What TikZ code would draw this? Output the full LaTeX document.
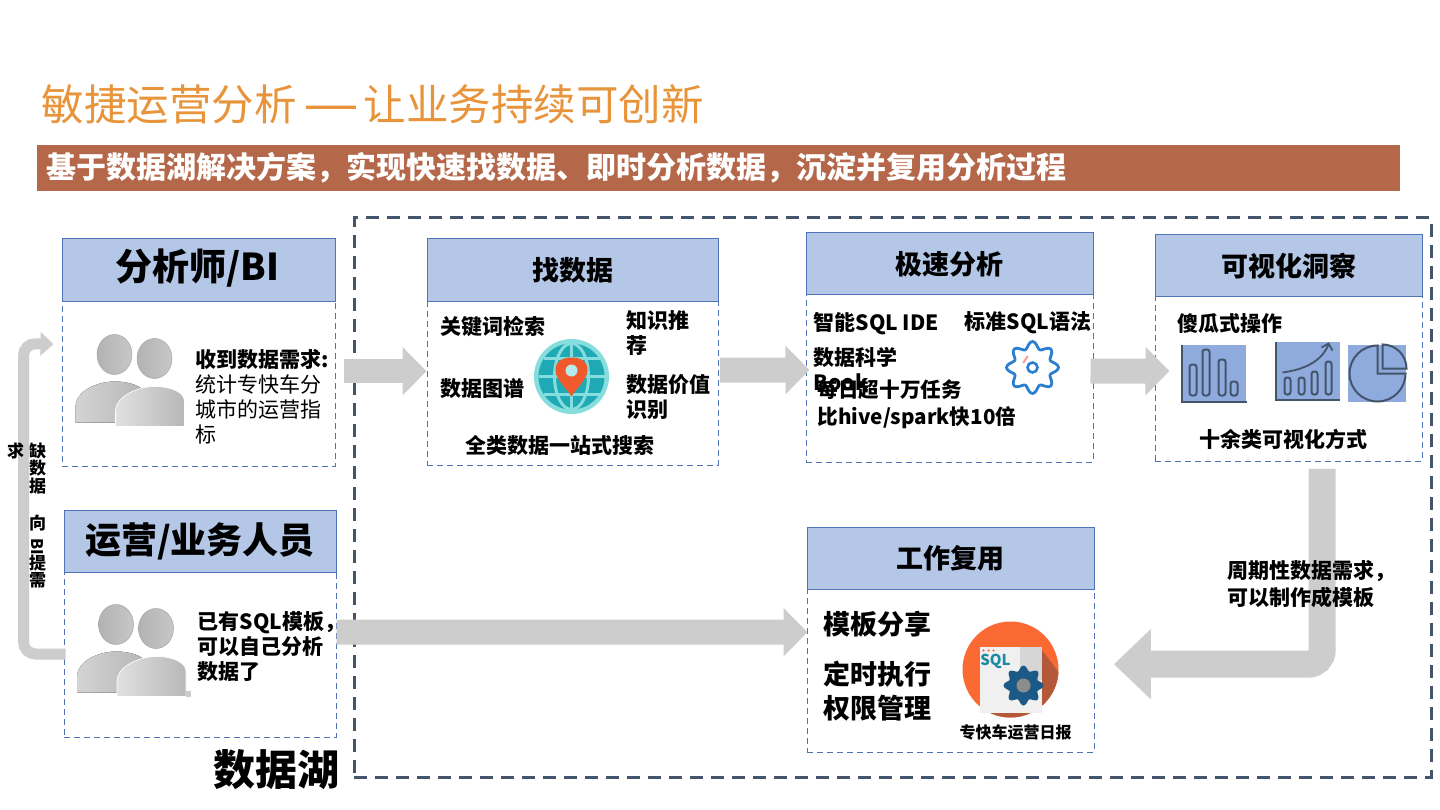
\documentclass[tikz,border=0pt]{standalone}
\usepackage{fontspec}
\usepackage{graphicx}
\setmainfont{Noto Sans CJK SC}
\newfontfamily\dashfont{Liberation Sans}
\usetikzlibrary{arrows.meta,positioning}
\definecolor{hdr}{HTML}{B4C7E7}
\definecolor{edge}{HTML}{4F73B5}
\definecolor{lake}{HTML}{44546A}
\definecolor{conn}{HTML}{CDCDCD}
\definecolor{tile}{HTML}{8FAADC}
\definecolor{banner}{HTML}{B5674A}
\definecolor{titleor}{HTML}{E8943A}
\definecolor{teal1}{HTML}{1FA9B5}
\definecolor{teal2}{HTML}{86DDDD}
\definecolor{pinor}{HTML}{F0592B}
\definecolor{gearblue}{HTML}{2A7FD0}
\definecolor{sqlor}{HTML}{FC6A33}
\definecolor{sqlsh}{HTML}{B4583A}
\definecolor{sqlgear}{HTML}{1B5A87}
\tikzset{
  x=1pt,y=-1pt,
  card/.style={draw=edge,line width=1.4pt,dash pattern=on 6pt off 4pt,fill=white,anchor=north west,inner sep=0pt,minimum width=#1},
  head/.style={draw=edge,line width=1pt,fill=hdr,anchor=north west,inner sep=0pt,minimum height=62pt,minimum width=#1,text=black},
  txt/.style={inner sep=0pt,anchor=west,align=left,text=black,font=\bfseries\fontsize{#1pt}{25pt}\selectfont},
  bigarrow/.style={draw=conn,line width=#1,-{Triangle[fill=conn,color=conn,length=24pt,width=47pt]}},
  barline/.style={draw=lake,line width=2pt,rounded corners=2.5pt},
}
\newcommand{\personicon}[2]{%
  \begin{scope}[shift={(#1,#2)}]
    \draw[gray!70,line width=.5pt,left color=black!30,right color=black!22] (115,355) ellipse (17.5 and 20);
    \draw[gray!70,line width=.5pt,left color=black!30,right color=black!22] (155,359) ellipse (17.5 and 20);
    \fill[left color=black!17,right color=black!30] (76,423) -- (76,408) .. controls (76,390) and (100,382) .. (115,382) .. controls (135,382) and (150,390) .. (153,405) -- (153,423) -- cycle;
    \draw[white,line width=.6pt,left color=black!12,right color=black!28] (116,427) -- (116,412) .. controls (116,396) and (140,387) .. (155,387) .. controls (172,387) and (185,393) .. (185,402) -- (185,427) -- cycle;
  \end{scope}}
\begin{document}
\begin{tikzpicture}
\useasboundingbox (0.5,0.5) rectangle (1440.5,810.5);
\fill[white] (0.5,0.5) rectangle (1440.5,810.5);

% title and banner
\node[inner sep=0pt,anchor=west,text=titleor,font=\fontsize{42.5pt}{48pt}\selectfont] (title) at (42,105) {敏捷运营分析\hspace{10pt}{\dashfont\fontsize{50pt}{48pt}\selectfont —}\hspace{7pt}让业务持续可创新};
\node[fill=banner,anchor=north west,inner sep=0pt,minimum width=1363pt,minimum height=46pt] (banner) at (37,145) {};
\node[inner sep=0pt,anchor=west,text=white,font=\bfseries\fontsize{30pt}{34pt}\selectfont] (bannertext) at (47,168) {基于数据湖解决方案，实现快速找数据、即时分析数据，沉淀并复用分析过程};

% data lake frame
\node[draw=lake,line width=3pt,dash pattern=on 13pt off 8pt,anchor=north west,inner sep=0pt,minimum width=1077pt,minimum height=559pt] (lakeframe) at (353,217) {};
\node[inner sep=0pt,anchor=east,font=\bfseries\fontsize{42pt}{46pt}\selectfont] (lakelabel) at (340,770) {数据湖};

% cards
\node[card=273pt,minimum height=227pt] (bodyA) at (62,239) {};
\node[head=273pt] (headA) at (62,239) {};
\node[font=\bfseries\fontsize{37pt}{42pt}\selectfont] (titleA) at (198,269) {分析师/BI};

\node[card=291pt,minimum height=226pt] (bodyB) at (427,239) {};
\node[head=291pt,font=\bfseries\fontsize{27pt}{30pt}\selectfont] (headB) at (427,239) {找数据};

\node[card=287pt,minimum height=229pt,line width=1pt] (bodyC) at (806,233) {};
\node[head=287pt,font=\bfseries\fontsize{27pt}{30pt}\selectfont] (headC) at (806,233) {极速分析};

\node[card=267pt,minimum height=226pt] (bodyD) at (1155,235) {};
\node[head=267pt,font=\bfseries\fontsize{27pt}{30pt}\selectfont] (headD) at (1155,235) {可视化洞察};

\node[card=287pt,minimum height=225pt] (bodyE) at (807,527) {};
\node[head=287pt,font=\bfseries\fontsize{27pt}{30pt}\selectfont] (headE) at (807,527) {工作复用};

\node[card=272pt,minimum height=227pt,line width=1pt] (bodyF) at (64,510) {};
\node[head=272pt,font=\bfseries\fontsize{36pt}{40pt}\selectfont] (headF) at (64,510) {运营/业务人员};

% connectors
\draw[bigarrow=24pt] ([xshift=8pt,yshift=-18.5pt]bodyA.east) -- ([yshift=-19pt]bodyB.west);
\draw[bigarrow=25pt] ([xshift=1pt,yshift=-18pt]bodyB.east) -- ([xshift=4pt,yshift=-22.5pt]bodyC.west);
\draw[bigarrow=25pt] ([xshift=-3pt,yshift=-23.5pt]bodyC.east) -- ([xshift=15pt,yshift=-23pt]bodyD.west);
\draw[bigarrow=25pt] ([xshift=0pt,yshift=-8.5pt]bodyF.east) -- ([xshift=1pt,yshift=7.5pt]bodyE.west);
\draw[draw=conn,line width=27pt,rounded corners=14pt,-{Triangle[fill=conn,color=conn,length=37pt,width=68pt]}] ([xshift=33.5pt,yshift=-7pt]bodyD.south) |- ([xshift=19pt,yshift=-24.5pt]bodyE.east);
\coordinate (turn) at (24,344);
\draw[draw=conn,line width=11pt,rounded corners=12pt,-{Triangle[fill=conn,color=conn,length=13pt,width=23pt]}] ([xshift=2pt,yshift=-30.5pt]bodyF.west) -| (turn) -- ([xshift=-8pt,yshift=8.5pt]bodyA.west);

% vertical connector label
\node[inner sep=0pt,anchor=north,align=center,font=\bfseries\fontsize{17pt}{17.5pt}\selectfont] (vlabel) at (38,443) {缺\\数\\据\\[20pt]向\\[-9pt]\rotatebox{-90}{\fontsize{16pt}{17pt}\selectfont BI}\\[-1pt]提\\需};
\node[inner sep=0pt,font=\bfseries\fontsize{17pt}{18pt}\selectfont] (vlabel2) at (16,451) {求};

% people
\personicon{0}{0}
\personicon{1.5}{270}
\fill[black!20] (186.5,691) rectangle (191,697);
\node[txt=21] (tA) at (196,397) {收到数据需求:\\\mdseries 统计专快车分\\\mdseries 城市的运营指\\\mdseries 标};
\node[txt=21] (tF) at (198,647) {已有SQL模板，\\可以自己分析\\数据了};

% find data
\node[txt=21] (b1) at (441,327) {关键词检索};
\node[txt=21] (b2) at (627,334) {知识推\\荐};
\node[txt=21] (b3) at (441,389) {数据图谱};
\node[txt=21] (b4) at (627,398) {数据价值\\识别};
\node[txt=21] (b5) at (466,446) {全类数据一站式搜索};
% globe
\begin{scope}
  \fill[teal2] (572,377) circle (37.5);
  \fill[teal1] (572,377) circle (33);
  \draw[teal2,line width=3pt] (572,344) -- (572,410);
  \draw[teal2,line width=3pt] (539,377) -- (605,377);
  \draw[teal2,line width=3pt] (572,377) ellipse (17 and 33);
  \draw[teal2,line width=3pt] (544,359) -- (600,359);
  \draw[teal2,line width=3pt] (544,395) -- (600,395);
  \fill[pinor] (572,397) .. controls (565,386) and (556,380) .. (556,370) .. controls (556,361) and (564,358) .. (572,358) .. controls (580,358) and (588,361) .. (588,370) .. controls (588,380) and (579,386) .. (572,397) -- cycle;
  \fill[teal2!60!white] (572,371) circle (6);
\end{scope}

% fast analysis
\node[txt=21] (c1) at (814,324) {智能SQL IDE};
\node[txt=21] (c2) at (965,323) {标准SQL语法};
\node[txt=21] (c3) at (814,358) {数据科学};
\node[txt=21] (c4) at (814,383) {Book};
\node[txt=20.6] (c5) at (818,390) {每日超十万任务};
\node[txt=20.6] (c6) at (818,418) {比hive/spark快10倍};
\draw[gearblue,line width=2.8pt,line join=round] plot[domain=0:355,samples=72,smooth cycle] ({1033+(22.5+3.5*cos(8*\x))*cos(\x)},{368+(22.5+3.5*cos(8*\x))*sin(\x)});
\draw[gearblue,line width=2.6pt] (1033,368) circle (5);
\draw[pink!80!red,line width=2pt,line cap=round] (1024,363) -- (1028,357);

% visual insight
\node[txt=21] (d1) at (1178,324) {傻瓜式操作};
\node[txt=21] (d2) at (1200,440) {十余类可视化方式};
\fill[tile] (1182,345) rectangle (1246,402);
\draw[lake,line width=2pt] (1182,345) -- (1182,402) -- (1247,402);
\draw[barline] (1190,396) rectangle (1197,365);
\draw[barline] (1203,396) rectangle (1210,350);
\draw[barline] (1219,396) rectangle (1226,360);
\draw[barline] (1231,396) rectangle (1238,382);
\fill[tile] (1276,342) rectangle (1340,400);
\draw[lake,line width=2pt] (1276,342) -- (1276,400) -- (1340,400);
\draw[barline] (1285,395) rectangle (1291,378);
\draw[barline] (1299,395) rectangle (1305,378);
\draw[barline] (1312,395) rectangle (1318,372);
\draw[barline] (1326,395) rectangle (1332,362);
\draw[lake,line width=1.8pt] (1283,373) .. controls (1305,370) and (1322,362) .. (1329,345);
\draw[lake,line width=1.8pt] (1322,348) -- (1329,344) -- (1333,351);
\fill[tile] (1348,345) rectangle (1406,402);
\draw[lake,line width=2pt] (1378,346) arc[start angle=-90,end angle=-360,radius=28] -- (1378,374) -- cycle;
\draw[lake,line width=2pt] (1383,345) arc[start angle=-90,end angle=0,radius=24] -- (1383,369) -- cycle;

% reuse
\node[txt=27] (e1) at (824,625) {模板分享};
\node[txt=27] (e2) at (824,675) {定时执行};
\node[txt=27] (e3) at (824,709) {权限管理};
\node[txt=16] (e4) at (960,733) {专快车运营日报};
\node[txt=21] (g1) at (1228,572) {周期性数据需求，};
\node[txt=21] (g2) at (1228,598) {可以制作成模板};
\begin{scope}
  \fill[sqlor] (1011,670) ellipse (48 and 48);
  \begin{scope}
    \clip (1011,670) ellipse (48 and 48);
    \fill[sqlsh] (1042,650) -- (1080,700) -- (1030,730) -- (980,713) -- cycle;
  \end{scope}
  \fill[black!6] (980,647) rectangle (1042,713);
  \fill[black!16] (1020,647) rectangle (1042,680);
  \foreach \dx in {984,989,994} \fill[pinor] (\dx,651) circle (1.2);
  \node[inner sep=0pt,text=teal1!60!sqlgear,font=\bfseries\fontsize{15pt}{16pt}\selectfont] (sqlword) at (996,662) {SQL};
  \fill[sqlgear] plot[domain=0:355,samples=72,smooth cycle] ({1024+(17.5+2.5*cos(8*\x))*cos(\x)},{686+(17.5+2.5*cos(8*\x))*sin(\x)});
  \fill[black!45] (1024,686) circle (7);
\end{scope}
\end{tikzpicture}
\end{document}
